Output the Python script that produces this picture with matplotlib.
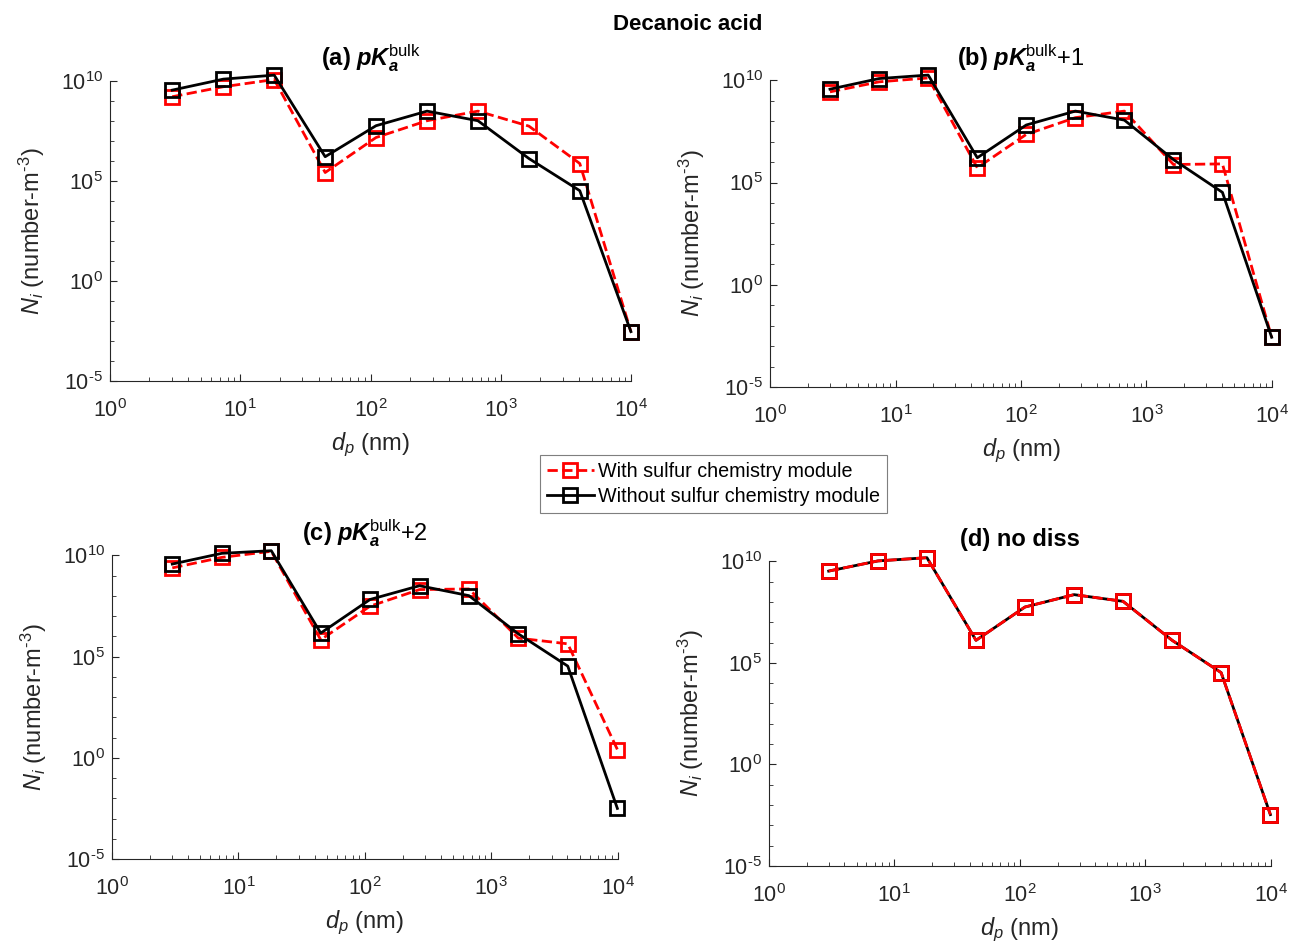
import numpy as np
import matplotlib.pyplot as plt
from matplotlib.ticker import FixedLocator, FuncFormatter, NullFormatter, LogLocator

plt.rcParams['font.family'] = ['Liberation Sans', 'DejaVu Sans']
plt.rcParams['mathtext.fontset'] = 'custom'
plt.rcParams['mathtext.rm'] = 'Liberation Sans'
plt.rcParams['mathtext.it'] = 'Liberation Sans:italic'
plt.rcParams['mathtext.bf'] = 'Liberation Sans:bold'
plt.rcParams['mathtext.bfit'] = 'Liberation Sans:bold:italic'
plt.rcParams['axes.unicode_minus'] = False

# particle diameters (nm)
dp = [3.0, 7.4, 18.2, 44.8, 110, 271, 666, 1640, 4030, 9950]

# log10 of number concentration
with_a = [9.22, 9.72, 10.08, 5.43, 7.18, 8.02, 8.50, 7.75, 5.88, -2.53]
without_a = [9.55, 10.10, 10.30, 6.22, 7.77, 8.50, 8.02, 6.13, 4.52, -2.53]
with_b = [9.43, 9.92, 10.11, 5.72, 7.35, 8.17, 8.49, 5.88, 5.91, -2.56]
without_b = [9.56, 10.08, 10.25, 6.21, 7.81, 8.49, 8.05, 6.12, 4.52, -2.56]
with_c = [9.38, 9.90, 10.20, 5.83, 7.49, 8.31, 8.34, 5.91, 5.63, 0.41]
without_c = [9.57, 10.10, 10.23, 6.16, 7.82, 8.50, 8.01, 6.12, 4.53, -2.50]
with_d = [9.52, 10.02, 10.18, 6.11, 7.75, 8.36, 8.03, 6.11, 4.52, -2.47]
without_d = [9.52, 10.02, 10.18, 6.11, 7.75, 8.36, 8.03, 6.11, 4.52, -2.47]

titles = [r"$\mathbf{(a)}\ \mathbfit{pK}_{\mathbfit{a}}^{\mathrm{bulk}}$",
          r"$\mathbf{(b)}\ \mathbfit{pK}_{\mathbfit{a}}^{\mathrm{bulk}}$+1",
          r"$\mathbf{(c)}\ \mathbfit{pK}_{\mathbfit{a}}^{\mathrm{bulk}}$+2",
          "(d) no diss"]
with_all = [with_a, with_b, with_c, with_d]
without_all = [without_a, without_b, without_c, without_d]

# axes rectangles [left, bottom, width, height] in figure fraction
rects = [[0.0853, 0.5985, 0.404, 0.316],
         [0.597, 0.592, 0.389, 0.3235],
         [0.0868, 0.0948, 0.392, 0.320],
         [0.596, 0.0875, 0.389, 0.321]]


def pow10(v, pos):
    e = int(round(np.log10(v)))
    s = r'\text{-}%d' % -e if e < 0 else '%d' % e
    return r'$\mathregular{10^{%s}}$' % s


axcol = '#262626'
fig = plt.figure(figsize=(12.9, 9.49), dpi=100)

for k in range(4):
    ax = fig.add_axes(rects[k])
    red_z, blk_z = (2, 3) if k < 3 else (3, 2)
    ax.plot(dp, 10.0 ** np.array(with_all[k]), '--s', color='red', lw=2, ms=10,
            mfc='none', mew=2, clip_on=False, zorder=red_z,
            label='With sulfur chemistry module')
    ax.plot(dp, 10.0 ** np.array(without_all[k]), '-s', color='black', lw=2, ms=10,
            mfc='none', mew=2, clip_on=False, zorder=blk_z,
            label='Without sulfur chemistry module')
    ax.set_xscale('log')
    ax.set_yscale('log')
    ax.set_xlim(1, 1e4)
    ax.set_ylim(1e-5, 1e10)
    ax.yaxis.set_major_locator(FixedLocator([1e-5, 1e0, 1e5, 1e10]))
    ax.yaxis.set_major_formatter(FuncFormatter(pow10))
    ax.yaxis.set_minor_locator(FixedLocator(10.0 ** np.arange(-5, 11)))
    ax.yaxis.set_minor_formatter(NullFormatter())
    ax.xaxis.set_major_locator(FixedLocator([1e0, 1e1, 1e2, 1e3, 1e4]))
    ax.xaxis.set_major_formatter(FuncFormatter(pow10))
    ax.xaxis.set_minor_locator(LogLocator(base=10, subs=np.arange(2, 10), numticks=10))
    ax.xaxis.set_minor_formatter(NullFormatter())
    for s in ['top', 'right']:
        ax.spines[s].set_visible(False)
    for s in ['left', 'bottom']:
        ax.spines[s].set_color(axcol)
        ax.spines[s].set_linewidth(0.8)
    ax.tick_params(which='both', direction='in', colors=axcol, labelcolor=axcol)
    ax.tick_params(which='major', length=5, labelsize=15.5)
    ax.tick_params(which='minor', length=3)
    ax.tick_params(axis='x', pad=13)
    ax.tick_params(axis='y', pad=5)
    ax.set_xlabel(r'$d_p$ (nm)', fontsize=17, color=axcol, labelpad=6)
    ax.set_ylabel(r'$N_i$ (number-m$^{\text{-}3}$)', fontsize=17, color=axcol, labelpad=10)
    ax.set_title(titles[k], fontsize=17, fontweight='bold' if k == 3 else 'normal', pad=11)
    if k == 0:
        handles, labels = ax.get_legend_handles_labels()

fig.text(0.533, 0.974, 'Decanoic acid', fontsize=16, fontweight='bold', ha='center', va='center')
leg = fig.legend(handles, labels, loc='center', bbox_to_anchor=(0.553, 0.49), fontsize=14.2,
                 fancybox=False, framealpha=1, edgecolor='#7f7f7f', handlelength=2.4,
                 handletextpad=0.2, borderpad=0.35, labelspacing=0.3, borderaxespad=0)
leg.get_frame().set_linewidth(0.8)

fig.savefig('out.png', dpi=100)
